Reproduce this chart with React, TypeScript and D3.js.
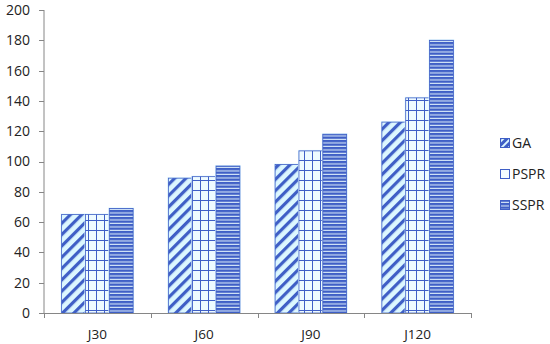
import React from "react";
import * as d3 from "d3";

const categories = ["J30", "J60", "J90", "J120"];
const seriesNames = ["GA", "PSPR", "SSPR"];
const gaValues = [65, 89, 98, 126];
const psprValues = [65, 90, 107, 142];
const ssprValues = [69, 97, 118, 180];
const yTicks = [0, 20, 40, 60, 80, 100, 120, 140, 160, 180, 200];

const W = 550, H = 344;
const left = 44, right = 471, top = 10, bottom = 313;
const BLUE = "#3f5fc6";
const FONT = "'Open Sans', 'Noto Sans', sans-serif";

export default function App() {
  const x = d3.scaleBand<string>().domain(categories).range([left, right]).paddingInner(0.33).paddingOuter(0.165);
  const xs = d3.scaleBand<string>().domain(seriesNames).range([0, x.bandwidth()]);
  const y = d3.scaleLinear().domain([0, 200]).range([bottom, top]);
  const data = [gaValues, psprValues, ssprValues];
  const fills = ["url(#pGA)", "url(#pPSPR)", "url(#pSSPR)"];
  const step = (right - left) / categories.length;
  const dividers = d3.range(categories.length + 1).map((i) => left + i * step);
  return (
    <svg width={W} height={H} style={{ position: "absolute", left: 0, top: 0, fontFamily: FONT }}>
      <defs>
        <pattern id="pGA" patternUnits="userSpaceOnUse" width="8" height="8" patternTransform="rotate(45)">
          <rect width="8" height="8" fill="#dcf7ff" />
          <rect x="0" y="0" width="3.2" height="8" fill={BLUE} />
        </pattern>
        <pattern id="pPSPR" patternUnits="userSpaceOnUse" width="8" height="10">
          <rect width="8" height="10" fill="#eefbff" />
          <line x1="0" y1="0.5" x2="8" y2="0.5" stroke={BLUE} strokeWidth="1" />
          <line x1="0.5" y1="0" x2="0.5" y2="10" stroke={BLUE} strokeWidth="1" />
        </pattern>
        <pattern id="pSSPR" patternUnits="userSpaceOnUse" width="4" height="3.5">
          <rect width="4" height="3.5" fill={BLUE} />
          <rect x="0" y="2.4" width="4" height="1" fill="#e8f8ff" />
        </pattern>
        <pattern id="lGA" patternUnits="userSpaceOnUse" width="5" height="5" patternTransform="rotate(45)">
          <rect width="5" height="5" fill="#dcf7ff" />
          <rect x="0" y="0" width="3" height="5" fill={BLUE} />
        </pattern>
      </defs>
      {categories.map((c, ci) =>
        data.map((vals, si) => {
          const bx = (x(c) as number) + (xs(seriesNames[si]) as number);
          const by = y(vals[ci]);
          return (
            <g key={c + si}>
              <rect x={bx - 1} y={by - 1} width={xs.bandwidth() + 2} height={bottom - by + 1} fill="#dff7ff" />
              <rect x={bx} y={by} width={xs.bandwidth()} height={bottom - by} fill={fills[si]} stroke={BLUE} strokeWidth={0.8} />
            </g>
          );
        })
      )}
      <line x1={left} y1={top} x2={left} y2={bottom} stroke="#868686" />
      <line x1={left} y1={bottom + 0.5} x2={right} y2={bottom + 0.5} stroke="#868686" />
      {yTicks.map((t) => (
        <g key={t}>
          <line x1={left - 5} x2={left} y1={Math.round(y(t)) + 0.5} y2={Math.round(y(t)) + 0.5} stroke="#868686" />
          <text x={30} y={y(t)} dy="0.35em" textAnchor="end" fontSize={14} fill="#222">{t}</text>
        </g>
      ))}
      {dividers.map((d, i) => (
        <line key={i} x1={Math.round(d) + 0.5} x2={Math.round(d) + 0.5} y1={bottom} y2={bottom + 5} stroke="#868686" />
      ))}
      {categories.map((c) => (
        <text key={c} x={(x(c) as number) + x.bandwidth() / 2} y={339} textAnchor="middle" fontSize={13.5} fill="#222">{c}</text>
      ))}
      {seriesNames.map((s, i) => {
        const ly = 143 + i * 31;
        return (
          <g key={s}>
            <rect x={500.5} y={ly - 4.5} width={9} height={9} fill={i === 0 ? "url(#lGA)" : i === 1 ? "#f4fcff" : "url(#pSSPR)"} stroke={BLUE} strokeWidth={1} />
            <text x={512} y={ly} dy="0.35em" fontSize={14} fill="#222">{s}</text>
          </g>
        );
      })}
    </svg>
  );
}
